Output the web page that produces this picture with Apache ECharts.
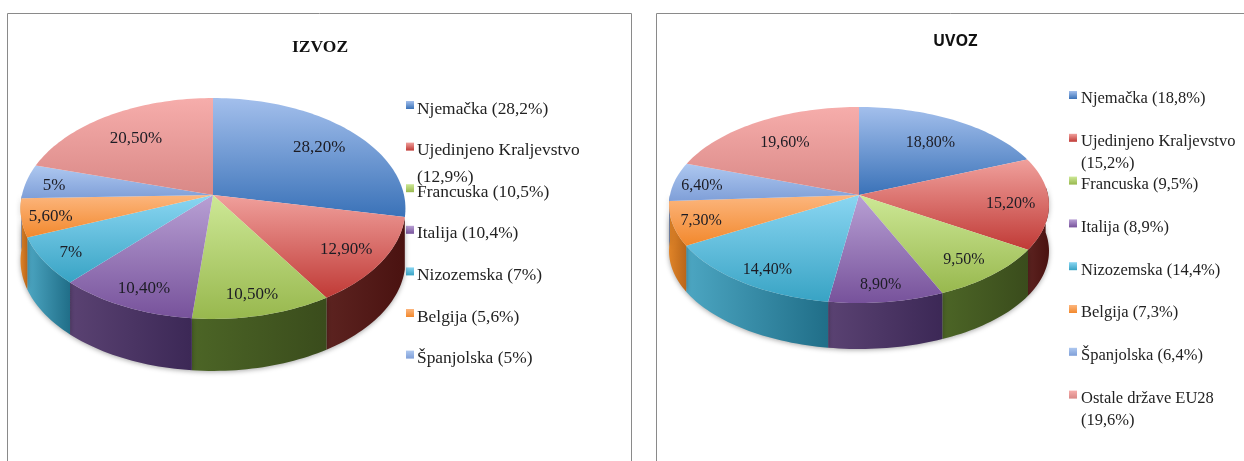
<!DOCTYPE html>
<html>
<head>
<meta charset="utf-8">
<title>IZVOZ / UVOZ</title>
<style>
  html, body { margin: 0; padding: 0; background: #fff; }
  #main { width: 1244px; height: 461px; }
</style>
<script src="https://cdn.jsdelivr.net/npm/echarts@6/dist/echarts.min.js"></script>
</head>
<body>
<div id="main"></div>
<script>
// data
const izvozValues = [28.2, 12.9, 10.5, 10.4, 7, 5.6, 5, 20.5];
const izvozLabels = ['28,20%', '12,90%', '10,50%', '10,40%', '7%', '5,60%', '5%', '20,50%'];
const izvozLegend = ['Njemačka (28,2%)', 'Ujedinjeno Kraljevstvo\n(12,9%)', 'Francuska (10,5%)', 'Italija (10,4%)',
  'Nizozemska (7%)', 'Belgija (5,6%)', 'Španjolska (5%)'];

const uvozValues = [18.8, 15.2, 9.5, 8.9, 14.4, 7.3, 6.4, 19.6];
const uvozLabels = ['18,80%', '15,20%', '9,50%', '8,90%', '14,40%', '7,30%', '6,40%', '19,60%'];
const uvozLegend = ['Njemačka (18,8%)', 'Ujedinjeno Kraljevstvo\n(15,2%)', 'Francuska (9,5%)', 'Italija (8,9%)',
  'Nizozemska (14,4%)', 'Belgija (7,3%)', 'Španjolska (6,4%)', 'Ostale države EU28\n(19,6%)'];

// top face light/dark, wall light/dark
const palette = [
  ['#a3bfec', '#3a72b8', '#2f5a94', '#234878'],
  ['#f0a09c', '#c03a36', '#5c2320', '#4a1210'],
  ['#cde896', '#98b84e', '#4c6526', '#3a4c1c'],
  ['#b8a0d4', '#77529b', '#5a4272', '#3c2856'],
  ['#8ad6f2', '#38a3c4', '#4ca6c2', '#206e88'],
  ['#fcb67e', '#f2882c', '#e08428', '#b9661a'],
  ['#aec8f0', '#7f9fd8', '#5f80b8', '#4a6aa0'],
  ['#f6adab', '#d98886', '#a86a68', '#8a5452']
];

// k is the perspective of the tilted disc, height the hub to rim scale
// wallFrom/wallTo limit the side wall to the part that shows at the front
const izvozPie = { values: izvozValues, labels: izvozLabels, x: 213, y: 195, rx: 191, height: 108.8, k: 0.122, depth: 52, font: 17, wallFrom: 101.6, wallTo: 270 };
const uvozPie = { values: uvozValues, labels: uvozLabels, x: 859, y: 195, rx: 189, height: 97, k: 0.102, depth: 46, font: 16, wallFrom: 85, wallTo: 270 };

function project(pie, deg, r, drop) {
  const a = deg * Math.PI / 180;
  const X = r * Math.sin(a);
  const Y = r * Math.cos(a);
  const w = 1 + pie.k * Y;
  return [pie.x + pie.rx * X / w, pie.y - pie.height * Y / w + drop];
}

function sliceAngles(pie, idx) {
  const total = pie.values.reduce((a, b) => a + b, 0);
  const before = pie.values.slice(0, idx).reduce((a, b) => a + b, 0);
  return [before / total * 360, (before + pie.values[idx]) / total * 360];
}

function arc(pie, from, to, drop) {
  const pts = [];
  const steps = Math.max(2, Math.ceil((to - from) / 1.5));
  for (let i = 0; i <= steps; i++) {
    pts.push(project(pie, from + (to - from) * i / steps, 1, drop));
  }
  return pts;
}

function gradient(horizontal, c0, c1) {
  return new echarts.graphic.LinearGradient(0, 0, horizontal ? 1 : 0, horizontal ? 0 : 1, [
    { offset: 0, color: c0 },
    { offset: 1, color: c1 }
  ]);
}

function renderWall(pie) {
  return function (params) {
    const angles = sliceAngles(pie, params.dataIndex);
    const from = Math.max(angles[0], pie.wallFrom);
    const to = Math.min(angles[1], pie.wallTo);
    if (to <= from) {
      return null;
    }
    const c = palette[params.dataIndex];
    const points = arc(pie, from, to, 0).concat(arc(pie, from, to, pie.depth).reverse());
    return {
      type: 'polygon',
      shape: { points: points },
      style: { fill: gradient(true, c[2], c[3]), shadowBlur: 5, shadowColor: 'rgba(0,0,0,0.35)', shadowOffsetY: 1 }
    };
  };
}

function renderTop(pie) {
  return function (params) {
    const idx = params.dataIndex;
    const [from, to] = sliceAngles(pie, idx);
    const c = palette[idx];
    const v = pie.values[idx];
    const mid = (from + to) / 2;
    // small slices push the label further out, the biggest one too
    const r = v < 8 ? 0.85 : (v > 25 ? 0.76 : (v < 15.5 ? 0.8 : 0.72));
    const nudge = Math.cos(mid * Math.PI / 180) < -0.8 ? 6 : 2;
    const pos = project(pie, mid, r, nudge);
    return {
      type: 'group',
      children: [
        {
          type: 'polygon',
          shape: { points: [[pie.x, pie.y]].concat(arc(pie, from, to, 0)) },
          style: { fill: gradient(false, c[0], c[1]) }
        },
        {
          type: 'text',
          z2: 10,
          style: {
            text: pie.labels[idx],
            x: pos[0],
            y: pos[1],
            align: 'center',
            verticalAlign: 'middle',
            fontFamily: '"Liberation Serif"',
            fontSize: pie.font,
            fill: '#1c1c24'
          }
        }
      ]
    };
  };
}

function pieSeries(pie) {
  const data = pie.values.map((v, i) => [i, v]);
  return [
    { type: 'custom', coordinateSystem: 'none', silent: true, z: 2, data: data, renderItem: renderWall(pie) },
    { type: 'custom', coordinateSystem: 'none', silent: true, z: 3, data: data, renderItem: renderTop(pie) }
  ];
}

function legendGraphics(items, iconX, textX, startY, gap, fontSize, lineHeight) {
  const out = [];
  items.forEach((text, i) => {
    const y = startY + i * gap;
    const c = palette[i];
    out.push({
      type: 'rect',
      shape: { x: iconX, y: y - 8, width: 8, height: 8 },
      style: { fill: gradient(false, c[0], c[1]) }
    });
    out.push({
      type: 'text',
      style: {
        text: text,
        x: textX,
        y: y - lineHeight / 2,
        fontFamily: '"Liberation Serif"',
        fontSize: fontSize,
        lineHeight: lineHeight,
        fill: '#222222'
      }
    });
  });
  return out;
}

const frames = [
  { type: 'polyline', shape: { points: [[7.5, 461], [7.5, 13.5], [631.5, 13.5], [631.5, 461]] }, style: { fill: 'none', stroke: '#8a8a8a', lineWidth: 1 } },
  { type: 'polyline', shape: { points: [[656.5, 461], [656.5, 13.5], [1244, 13.5]] }, style: { fill: 'none', stroke: '#8a8a8a', lineWidth: 1 } }
];

const chart = echarts.init(document.getElementById('main'));
chart.setOption({
  animation: false,
  backgroundColor: '#ffffff',
  title: [
    {
      text: 'IZVOZ', left: 287, top: 33,
      textStyle: { fontFamily: '"Liberation Serif"', fontSize: 17.5, fontWeight: 'bold', color: '#111' }
    },
    {
      text: 'UVOZ', left: 928, top: 28,
      textStyle: { fontFamily: '"Open Sans"', fontSize: 16, fontWeight: 'bold', color: '#111' }
    }
  ],
  graphic: frames
    .concat(legendGraphics(izvozLegend, 406, 417, 109, 41.6, 17.4, 26.5))
    .concat(legendGraphics(uvozLegend, 1069, 1081, 99, 42.8, 16.5, 22)),
  series: pieSeries(izvozPie).concat(pieSeries(uvozPie))
});
</script>
</body>
</html>
